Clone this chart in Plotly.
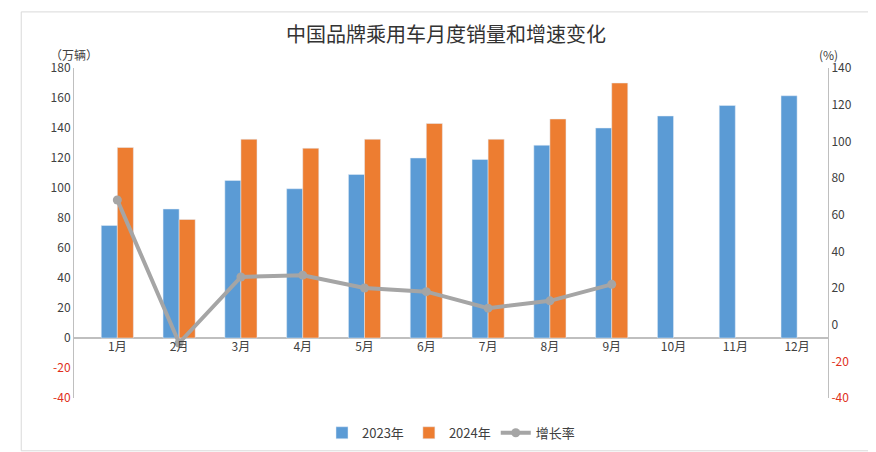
import plotly.graph_objects as go

months = ["1月","2月","3月","4月","5月","6月","7月","8月","9月","10月","11月","12月"]
sales_2023 = [75, 86, 105, 99.5, 109, 120, 119, 128.5, 140, 148, 155, 161.5]
sales_2024 = [127, 79, 132.5, 126.5, 132.5, 143, 132.5, 146, 170]
growth = [68, -10, 26, 27, 20, 18, 9, 13, 22]
left_ticks = list(range(-40, 181, 20))
right_ticks = list(range(-40, 141, 20))

def tick_text(vals):
    return [f"<span style='color:#e03020'>{v}</span>" if v < 0 else str(v) for v in vals]

fig = go.Figure()
fig.add_bar(x=months, y=sales_2023, name="2023年", marker_color="#5b9bd5")
fig.add_bar(x=months[:9], y=sales_2024, name="2024年", marker_color="#ed7d31")
fig.add_scatter(x=months[:9], y=growth, name="增长率", yaxis="y2", mode="lines+markers",
                line=dict(color="#a5a5a5", width=4), marker=dict(size=9, color="#a5a5a5"))

fig.update_layout(
    width=876, height=452, paper_bgcolor="white", plot_bgcolor="white",
    font=dict(family="Noto Sans CJK SC", size=12, color="#404040"),
    title=dict(text="中国品牌乘用车月度销量和增速变化", x=0.5, y=0.955, xanchor="center",
               font=dict(size=20, color="#333")),
    margin=dict(l=66, r=56, t=60, b=56),
    barmode="group", bargap=0.48, bargroupgap=0.0,
    xaxis=dict(type="category", showline=False, ticks="", anchor="free",
               position=40 / 220, tickfont=dict(size=12)),
    yaxis=dict(range=[-40, 180], tickvals=left_ticks, ticktext=tick_text(left_ticks),
               showgrid=False, zeroline=True, zerolinecolor="#bfbfbf", showline=True,
               linecolor="#bfbfbf"),
    yaxis2=dict(range=[-40, 140], tickvals=right_ticks, ticktext=tick_text(right_ticks),
                overlaying="y", side="right", showgrid=False, zeroline=False,
                showline=True, linecolor="#bfbfbf"),
    legend=dict(orientation="h", x=0.5, xanchor="center", y=-0.06, yanchor="top",
                font=dict(size=13)),
    shapes=[dict(type="rect", xref="paper", yref="paper", x0=-0.07, x1=1.06, y0=-0.16, y1=1.17,
                 line=dict(color="#d9d9d9", width=1))],
    annotations=[
        dict(text="（万辆）", x=0.0, y=1.01, xref="paper", yref="paper", showarrow=False,
             xanchor="center", yanchor="bottom", font=dict(size=12)),
        dict(text="(%)", x=1.0, y=1.01, xref="paper", yref="paper", showarrow=False,
             xanchor="center", yanchor="bottom", font=dict(size=12)),
    ],
)
fig.write_html("out.html")
